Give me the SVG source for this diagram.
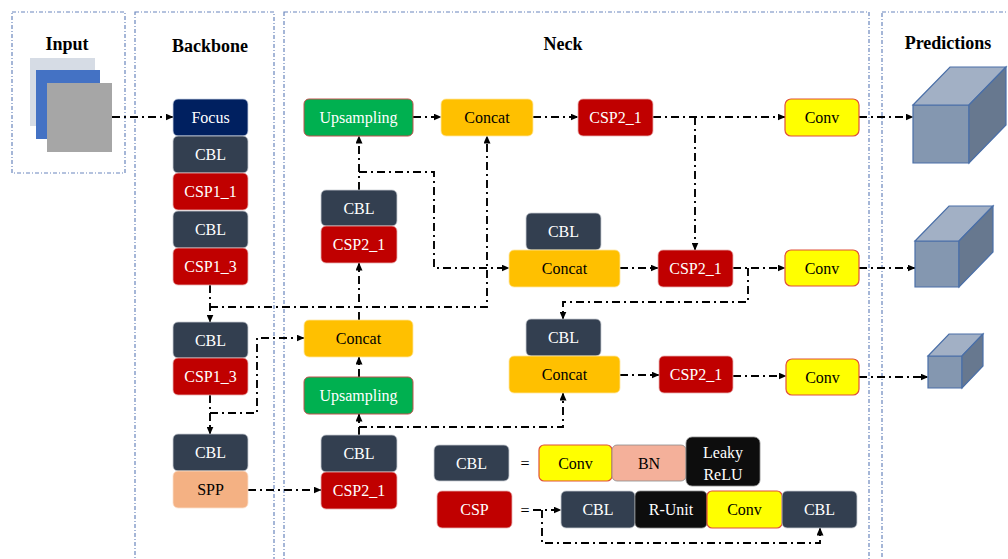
<svg xmlns="http://www.w3.org/2000/svg" width="1008" height="559" viewBox="0 0 1008 559">
<defs>
<marker id="ah" markerWidth="8" markerHeight="7" refX="7.5" refY="3.5" orient="auto" markerUnits="userSpaceOnUse">
<path d="M0,0 L8,3.5 L0,7 z" fill="#000"/>
</marker>
<style>
.panel{fill:none;stroke:#6a86bd;stroke-width:1.2;stroke-dasharray:4,2,1,2}
.title{font-family:"Liberation Serif","Times New Roman",serif;font-weight:bold;font-size:18px;fill:#000;text-anchor:middle}
.lbl{font-family:"Liberation Serif","Times New Roman",serif;font-size:16px;text-anchor:middle;dominant-baseline:central}
.w{fill:#fff}
.k{fill:#000}
.focus{fill:#002060;stroke:#c9d3e6;stroke-width:0.8}
.cbl{fill:#333f50;stroke:#c8ccd2;stroke-width:0.8}
.csp{fill:#c00000;stroke:#e7b0b0;stroke-width:0.8}
.cat{fill:#ffc000;stroke:#ffe6a0;stroke-width:0.8}
.up{fill:#00b050;stroke:#c0504d;stroke-width:1}
.conv{fill:#ffff00;stroke:#e0503a;stroke-width:1.2}
.spp{fill:#f4b183;stroke:#fbe0cc;stroke-width:0.8}
.bn{fill:#f4b09a;stroke:#8a8a8a;stroke-width:0.8}
.blk{fill:#0d0d0d;stroke:#8a8a8a;stroke-width:0.8}
.cn path{fill:none;stroke:#000;stroke-width:1.9;stroke-dasharray:8,4,2,4}
.front{fill:#8497b0;stroke:#4a6fa8;stroke-width:1.2}
.top{fill:#a2b0c5;stroke:#4a6fa8;stroke-width:1.2}
.side{fill:#67788f;stroke:#4a6fa8;stroke-width:1.2}
</style>
</defs>
<rect width="1008" height="559" fill="#fff"/>

<g id="panels">
<rect class="panel" x="12" y="12" width="113" height="161"/>
<rect class="panel" x="135" y="12" width="139" height="560"/>
<rect class="panel" x="284" y="12" width="585" height="560"/>
<rect class="panel" x="882" y="12" width="140" height="560"/>
<text class="title" x="67" y="50">Input</text>
<text class="title" x="210" y="52">Backbone</text>
<text class="title" x="563" y="50">Neck</text>
<text class="title" x="948" y="49">Predictions</text>
</g>

<g id="input-images">
<rect x="30" y="58" width="65" height="68" fill="#d6dce5"/>
<rect x="36" y="70" width="64" height="69" fill="#4472c4"/>
<rect x="47" y="83" width="65" height="69" fill="#a6a6a6"/>
</g>

<g id="connectors" class="cn">
<path d="M112,117 H173" marker-end="url(#ah)"/>
<path d="M210,285 V322" marker-end="url(#ah)"/>
<path d="M210,307 H487 V136" marker-end="url(#ah)"/>
<path d="M359,320 V263" marker-end="url(#ah)"/>
<path d="M359,190 V136" marker-end="url(#ah)"/>
<path d="M359,172 H434 V268 H509" marker-end="url(#ah)"/>
<path d="M413,117 H441" marker-end="url(#ah)"/>
<path d="M533,117 H578" marker-end="url(#ah)"/>
<path d="M653,117 H785" marker-end="url(#ah)"/>
<path d="M695,117 V250" marker-end="url(#ah)"/>
<path d="M859,117 H913" marker-end="url(#ah)"/>
<path d="M620,268 H658" marker-end="url(#ah)"/>
<path d="M733,268 H785" marker-end="url(#ah)"/>
<path d="M748,268 V302 H563 V319" marker-end="url(#ah)"/>
<path d="M859,268 H915" marker-end="url(#ah)"/>
<path d="M620,375 H659" marker-end="url(#ah)"/>
<path d="M733,376 H786" marker-end="url(#ah)"/>
<path d="M859,377 H928" marker-end="url(#ah)"/>
<path d="M210,395 V434" marker-end="url(#ah)"/>
<path d="M210,413 H257 V338 H304" marker-end="url(#ah)"/>
<path d="M359,435 V414" marker-end="url(#ah)"/>
<path d="M359,377 V357" marker-end="url(#ah)"/>
<path d="M359,427 H563 V393" marker-end="url(#ah)"/>
<path d="M248,490 H321" marker-end="url(#ah)"/>
<path d="M533,510 H561" marker-end="url(#ah)"/>
<path d="M542,510 V543 H820 V528" marker-end="url(#ah)"/>
</g>

<g id="focus"><rect class="focus" x="173" y="99" width="75" height="37" rx="5"/><text class="lbl w" x="210.5" y="117.5">Focus</text></g>
<g id="bb-cbl1"><rect class="cbl" x="173" y="136" width="75" height="37" rx="5"/><text class="lbl w" x="210.5" y="154.5">CBL</text></g>
<g id="bb-csp1-1"><rect class="csp" x="173" y="173" width="75" height="37" rx="5"/><text class="lbl w" x="210.5" y="191.5">CSP1_1</text></g>
<g id="bb-cbl2"><rect class="cbl" x="173" y="211" width="75" height="37" rx="5"/><text class="lbl w" x="210.5" y="229.5">CBL</text></g>
<g id="bb-csp1-3a"><rect class="csp" x="173" y="248" width="75" height="37" rx="5"/><text class="lbl w" x="210.5" y="266.5">CSP1_3</text></g>
<g id="bb-cbl3"><rect class="cbl" x="173" y="322" width="75" height="36" rx="5"/><text class="lbl w" x="210.5" y="340">CBL</text></g>
<g id="bb-csp1-3b"><rect class="csp" x="173" y="358" width="75" height="37" rx="5"/><text class="lbl w" x="210.5" y="376.5">CSP1_3</text></g>
<g id="bb-cbl4"><rect class="cbl" x="173" y="434" width="75" height="37" rx="5"/><text class="lbl w" x="210.5" y="452.5">CBL</text></g>
<g id="spp"><rect class="spp" x="173" y="471" width="75" height="37" rx="5"/><text class="lbl k" x="210.5" y="489.5">SPP</text></g>

<g id="up1"><rect class="up" x="304" y="99" width="109" height="37" rx="5"/><text class="lbl w" x="358.5" y="117.5">Upsampling</text></g>
<g id="cat1"><rect class="cat" x="441" y="99" width="92" height="37" rx="5"/><text class="lbl k" x="487" y="117.5">Concat</text></g>
<g id="csp2-top"><rect class="csp" x="578" y="99" width="75" height="37" rx="5"/><text class="lbl w" x="615.5" y="117.5">CSP2_1</text></g>
<g id="conv1"><rect class="conv" x="785" y="99" width="74" height="37" rx="6"/><text class="lbl k" x="822" y="117.5">Conv</text></g>

<g id="nk-cbl1"><rect class="cbl" x="321" y="190" width="76" height="36" rx="5"/><text class="lbl w" x="359" y="208">CBL</text></g>
<g id="nk-csp2a"><rect class="csp" x="321" y="226" width="76" height="37" rx="5"/><text class="lbl w" x="359" y="244.5">CSP2_1</text></g>

<g id="nk-cbl2"><rect class="cbl" x="526" y="213" width="75" height="37" rx="5"/><text class="lbl w" x="563.5" y="231.5">CBL</text></g>
<g id="cat2"><rect class="cat" x="509" y="250" width="111" height="37" rx="5"/><text class="lbl k" x="564.5" y="268.5">Concat</text></g>
<g id="csp2-mid"><rect class="csp" x="658" y="250" width="75" height="37" rx="5"/><text class="lbl w" x="695.5" y="268.5">CSP2_1</text></g>
<g id="conv2"><rect class="conv" x="785" y="250" width="74" height="36" rx="6"/><text class="lbl k" x="822" y="268">Conv</text></g>

<g id="cat3"><rect class="cat" x="304" y="320" width="109" height="37" rx="5"/><text class="lbl k" x="358.5" y="338.5">Concat</text></g>
<g id="up2"><rect class="up" x="304" y="377" width="109" height="37" rx="5"/><text class="lbl w" x="358.5" y="395.5">Upsampling</text></g>
<g id="nk-cbl3"><rect class="cbl" x="321" y="435" width="76" height="37" rx="5"/><text class="lbl w" x="359" y="453.5">CBL</text></g>
<g id="nk-csp2b"><rect class="csp" x="321" y="472" width="76" height="37" rx="5"/><text class="lbl w" x="359" y="490.5">CSP2_1</text></g>

<g id="nk-cbl4"><rect class="cbl" x="526" y="319" width="75" height="37" rx="5"/><text class="lbl w" x="563.5" y="337.5">CBL</text></g>
<g id="cat4"><rect class="cat" x="509" y="356" width="111" height="37" rx="5"/><text class="lbl k" x="564.5" y="374.5">Concat</text></g>
<g id="csp2-low"><rect class="csp" x="659" y="356" width="74" height="37" rx="5"/><text class="lbl w" x="696" y="374.5">CSP2_1</text></g>
<g id="conv3"><rect class="conv" x="786" y="359" width="73" height="36" rx="6"/><text class="lbl k" x="822.5" y="377">Conv</text></g>

<g id="cube1">
<polygon class="front" points="913,105 969,105 969,163 913,163"/>
<polygon class="top" points="913,105 950,67 1006,67 969,105"/>
<polygon class="side" points="969,105 1006,67 1006,125 969,163"/>
</g>
<g id="cube2">
<polygon class="front" points="915,241 959,241 959,287 915,287"/>
<polygon class="top" points="915,241 949,206 993,206 959,241"/>
<polygon class="side" points="959,241 993,206 993,252 959,287"/>
</g>
<g id="cube3">
<polygon class="front" points="928,356 962,356 962,388 928,388"/>
<polygon class="top" points="928,356 949,334 983,334 962,356"/>
<polygon class="side" points="962,356 983,334 983,366 962,388"/>
</g>

<g id="legend-cbl">
<rect class="cbl" x="434" y="445" width="75" height="36" rx="5"/><text class="lbl w" x="471.5" y="463">CBL</text>
<text class="lbl k" x="525" y="463">=</text>
</g>
<g id="lg-conv"><rect class="conv" x="539" y="445" width="73" height="36" rx="5"/><text class="lbl k" x="575.5" y="463">Conv</text></g>
<g id="lg-bn"><rect class="bn" x="612" y="445" width="74" height="36" rx="5"/><text class="lbl k" x="649" y="463">BN</text></g>
<g id="lg-leaky"><rect class="blk" x="686" y="437" width="74" height="49" rx="6"/><text class="lbl w" x="723" y="452">Leaky</text><text class="lbl w" x="723" y="474">ReLU</text></g>

<g id="legend-csp">
<rect class="csp" x="437" y="491" width="75" height="37" rx="5"/><text class="lbl w" x="474.5" y="509.5">CSP</text>
<text class="lbl k" x="525" y="510">=</text>
</g>
<g id="lg-cbl1"><rect class="cbl" x="561" y="491" width="74" height="37" rx="5"/><text class="lbl w" x="598" y="509.5">CBL</text></g>
<g id="lg-runit"><rect class="blk" x="635" y="491" width="72" height="37" rx="5"/><text class="lbl w" x="671" y="509.5">R-Unit</text></g>
<g id="lg-conv2"><rect class="conv" x="707" y="491" width="75" height="37" rx="5"/><text class="lbl k" x="744.5" y="509.5">Conv</text></g>
<g id="lg-cbl2"><rect class="cbl" x="782" y="491" width="75" height="37" rx="5"/><text class="lbl w" x="819.5" y="509.5">CBL</text></g>
</svg>
